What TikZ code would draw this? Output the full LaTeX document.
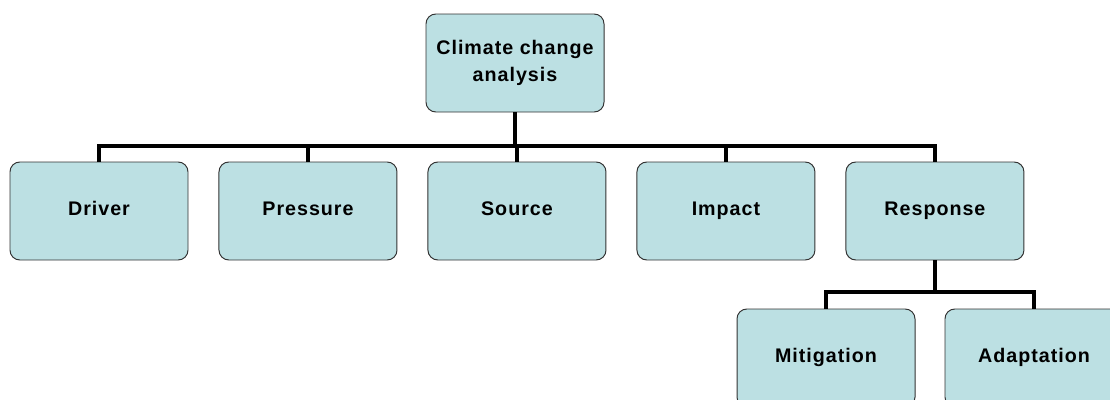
\documentclass[tikz,border=0pt]{standalone}
\usepackage{fontspec}
\setmainfont[LetterSpace=5]{Liberation Sans}
\usepackage{tikz}
\usetikzlibrary{positioning}
\definecolor{boxfill}{HTML}{BCE0E3}
\tikzset{
  box/.style={draw=black!80, fill=boxfill, rounded corners=7pt, line width=0.7pt,
    minimum width=4.45cm, minimum height=2.45cm, align=center,
    text height=10pt, text depth=3pt,
    font=\fontsize{14}{19}\selectfont\bfseries},
  conn/.style={line width=2.4pt, black}
}

\begin{document}
\begin{tikzpicture}
  \useasboundingbox (0,0) rectangle (27.75,9.975);
  \node[box, text height=, text depth=] (cca) at (12.875,8.4) {Climate change\\analysis};
  \node[box] (drv) at (2.475,4.7) {Driver};
  \node[box, right=0.75cm of drv] (prs) {Pressure};
  \node[box, right=0.75cm of prs] (src) {Source};
  \node[box, right=0.75cm of src] (imp) {Impact};
  \node[box, right=0.75cm of imp] (rsp) {Response};
  \node[box] (mit) at (20.65,1.025) {Mitigation};
  \node[box, right=0.725cm of mit] (adp) {Adaptation};
  \coordinate (bus) at (0,6.325);
  \coordinate (sub) at (0,2.675);

  \foreach \n in {drv,prs,src,imp,rsp}
    \draw[conn] (cca.south) -- (cca.south |- bus) -| (\n.north);
  \foreach \n in {mit,adp}
    \draw[conn] (rsp.south) -- (rsp.south |- sub) -| (\n.north);
\end{tikzpicture}
\end{document}
